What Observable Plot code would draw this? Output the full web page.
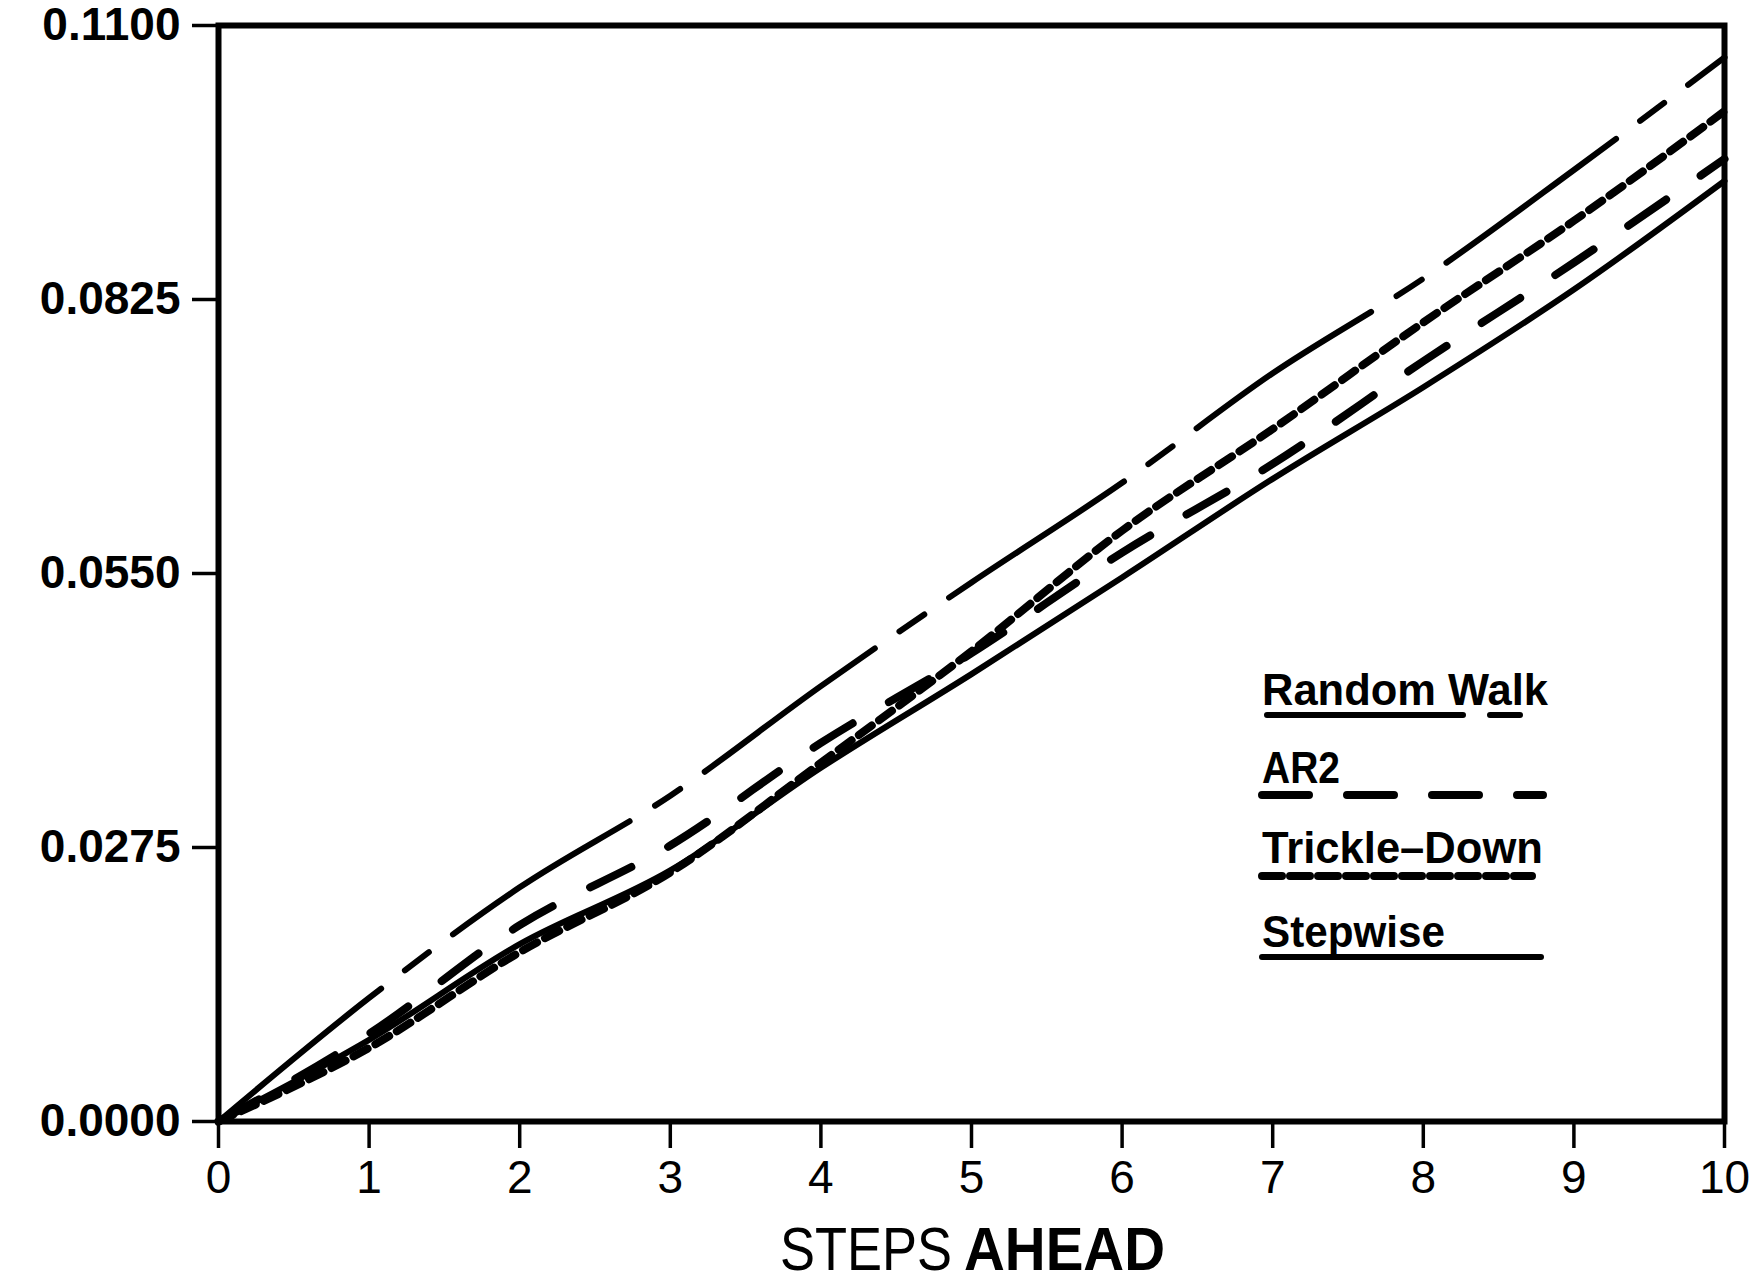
<!DOCTYPE html>
<html>
<head>
<meta charset="utf-8">
<script src="https://cdn.jsdelivr.net/npm/d3@7"></script>
<script src="https://cdn.jsdelivr.net/npm/@observablehq/plot@0.6"></script>
<style>
  html, body { margin: 0; padding: 0; background: #fff; }
  #chart svg { display: block; }
</style>
</head>
<body>
<div id="chart"></div>
<script>
// ---- data ----
const steps = [0, 1, 2, 3, 4, 5, 6, 7, 8, 9, 10];
const randomWalk  = [0, 0.0124, 0.0235, 0.0327, 0.0437, 0.0541, 0.0641, 0.0751, 0.0846, 0.0955, 0.1068];
const ar2         = [0, 0.0088, 0.0197, 0.0277, 0.0380, 0.0470, 0.0571, 0.0660, 0.0763, 0.0862, 0.0966];
const trickleDown = [0, 0.0074, 0.0170, 0.0250, 0.0360, 0.0472, 0.0593, 0.0695, 0.0802, 0.0904, 0.1014];
const stepwise    = [0, 0.0082, 0.0178, 0.0252, 0.0355, 0.0449, 0.0546, 0.0645, 0.0737, 0.0835, 0.0944];
const yTicks = [0, 0.0275, 0.055, 0.0825, 0.11];
const seriesNames = ["Random Walk", "AR2", "Trickle–Down", "Stepwise"];
const xLabelA = "STEPS";
const xLabelB = "AHEAD";

// ---- styles ----
const seriesValues = [randomWalk, ar2, trickleDown, stepwise];
const seriesStyle = [
  {strokeWidth: 6, dash: "210,30,30,30"},
  {strokeWidth: 8, dash: "46,42"},
  {strokeWidth: 8, dash: "16,9"},
  {strokeWidth: 6, dash: null}
];

const rows = [];
seriesNames.forEach((name, i) => {
  steps.forEach((s, j) => rows.push({series: name, step: s, value: seriesValues[i][j]}));
});

const W = 1757, H = 1277;
const font = "'Liberation Sans', Arial, sans-serif";

const lineMarks = seriesNames.map((name, i) => Plot.lineY(rows.filter(d => d.series === name), {
  x: "step", y: "value", stroke: "black", curve: "monotone-x",
  strokeWidth: seriesStyle[i].strokeWidth,
  strokeDasharray: seriesStyle[i].dash,
  strokeLinecap: "round", strokeLinejoin: "round"
}));

const chart = Plot.plot({
  width: W, height: H,
  marginLeft: 218, marginRight: 33, marginTop: 25, marginBottom: 156,
  style: {background: "white", color: "black", fontFamily: font},
  x: {domain: [0, 10]},
  y: {domain: [0, 0.11]},
  marks: [
    ...lineMarks,
    Plot.frame({stroke: "black", strokeWidth: 6}),
    Plot.axisX({ticks: steps, tickSize: 27, tickPadding: 12, fontSize: 46,
                strokeWidth: 3.5, label: null, tickFormat: d => String(d)}),
    Plot.axisY({ticks: yTicks, tickSize: 26, tickPadding: 12, fontSize: 46, fontWeight: "bold",
                strokeWidth: 3.5, label: null, tickFormat: d3.format(".4f")})
  ]
});
document.getElementById("chart").appendChild(chart);

// ---- x axis title ----
const svg = d3.select(chart);
svg.append("text")
  .attr("x", 780).attr("y", 1270).attr("text-anchor", "start")
  .attr("font-family", font).attr("font-size", 62).attr("fill", "black")
  .attr("textLength", 172).attr("lengthAdjust", "spacingAndGlyphs")
  .text(xLabelA);
svg.append("text")
  .attr("x", 964).attr("y", 1270).attr("text-anchor", "start")
  .attr("font-family", font).attr("font-size", 62).attr("font-weight", "bold").attr("fill", "black")
  .attr("textLength", 201).attr("lengthAdjust", "spacingAndGlyphs")
  .text(xLabelB);

// ---- legend ----
const legend = [
  {y: 705, len: 286, lineY: 715, x1: 1267, x2: 1520, dash: "196,27,30,200", w: 6},
  {y: 783, len: 78,  lineY: 795, x1: 1262, x2: 1543, dash: "47,38", w: 8},
  {y: 863, len: 281, lineY: 876, x1: 1262, x2: 1532, dash: "20,8", w: 8},
  {y: 947, len: 183, lineY: 957, x1: 1262, x2: 1541, dash: null, w: 6}
];
const lg = svg.append("g").attr("text-anchor", "start");
legend.forEach((l, i) => {
  lg.append("text").attr("x", 1262).attr("y", l.y).attr("text-anchor", "start")
    .attr("font-family", font).attr("font-weight", "bold").attr("font-size", 44)
    .attr("fill", "black").attr("textLength", l.len).attr("lengthAdjust", "spacingAndGlyphs")
    .text(seriesNames[i]);
  lg.append("line").attr("x1", l.x1).attr("x2", l.x2).attr("y1", l.lineY).attr("y2", l.lineY)
    .attr("stroke", "black").attr("stroke-width", l.w).attr("stroke-linecap", "round")
    .attr("stroke-dasharray", l.dash);
});
</script>
</body>
</html>
